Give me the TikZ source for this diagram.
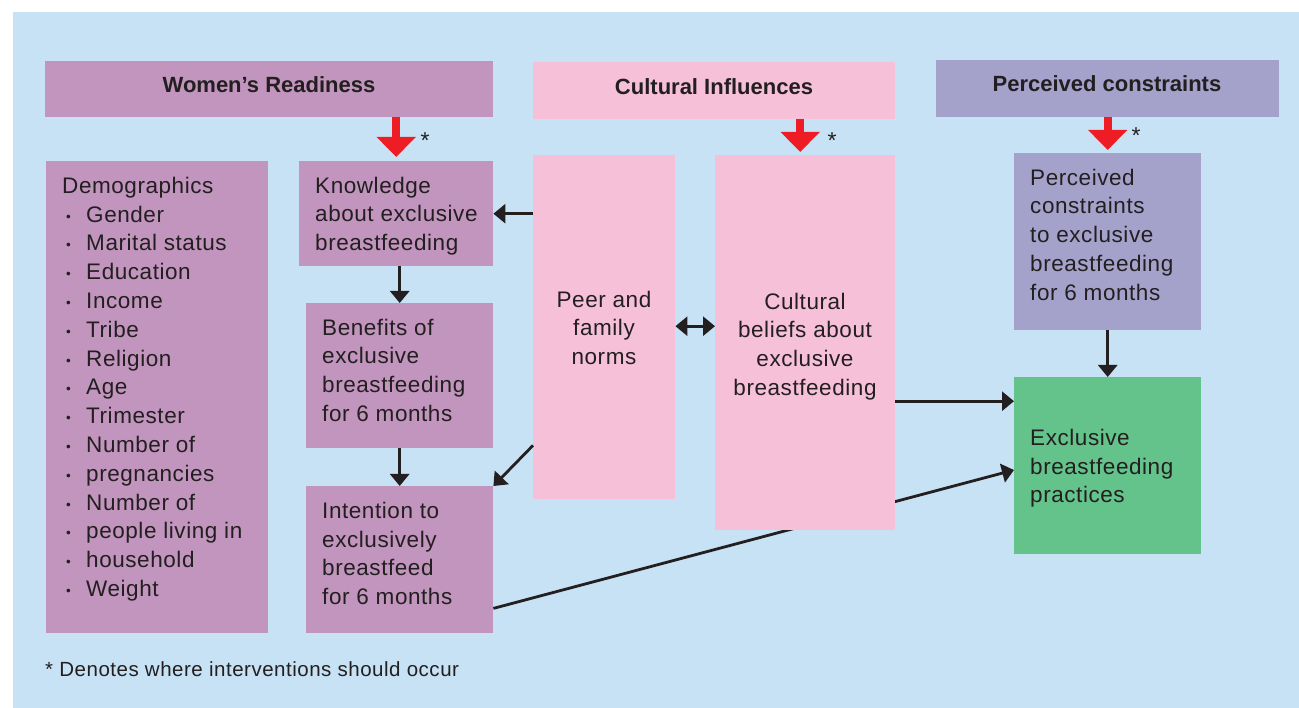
\documentclass[tikz,border=0pt]{standalone}
\usepackage{fontspec}
\setmainfont{Liberation Sans}[LetterSpace=2.5,BoldFeatures={LetterSpace=0}]
\usetikzlibrary{arrows.meta}

\definecolor{sky}{HTML}{C6E2F4}
\definecolor{mauve}{HTML}{C195BD}
\definecolor{rose}{HTML}{F7C0D9}
\definecolor{lilac}{HTML}{A4A2CA}
\definecolor{leaf}{HTML}{64C28B}
\definecolor{alert}{HTML}{EE1C25}
\definecolor{ink}{HTML}{231F20}

% bullet for the demographics list
\newcommand{\dotitem}{\makebox[24pt][l]{\hspace{4pt}\raisebox{1pt}{\scalebox{0.6}{•}}}}
% first-line strut: the text block's top sits 17pt above its first baseline
\newcommand{\firstline}{\rule{0pt}{17pt}}

\tikzset{
  panel/.style={rectangle, anchor=north west, inner sep=0pt, draw=none},
  txt/.style={anchor=north west, inner sep=0pt, text=ink, align=left,
    font=\fontsize{22.5}{28.8}\selectfont},
  ctxt/.style={txt, anchor=north, align=center},
  head/.style={anchor=base, inner sep=0pt, text=ink,
    font=\fontsize{22}{24}\selectfont\bfseries},
  arr/.style={draw=ink, line width=2.8pt, -{Triangle[length=12pt,width=19pt]}},
  twoarr/.style={draw=ink, line width=2.8pt,
    {Triangle[length=12pt,width=19pt]}-{Triangle[length=12pt,width=19pt]}},
  redarr/.style={draw=alert, line width=8pt, -{Triangle[length=20pt,width=38pt]}},
  star/.style={anchor=base, text=ink, inner sep=0pt, font=\fontsize{23}{24}\selectfont},
}

\begin{document}
\begin{tikzpicture}[x=1pt, y=-1pt]
  \useasboundingbox (0,0) rectangle (1299,708);
  \fill[sky] (13,12) rectangle (1299,708);

  % header bars
  \node[panel, fill=mauve, minimum width=448pt, minimum height=56pt] (hwr) at (45,61) {};
  \node[panel, fill=rose, minimum width=362pt, minimum height=57pt] (hci) at (533,62) {};
  \node[panel, fill=lilac, minimum width=343pt, minimum height=57pt] (hpc) at (936,60) {};
  \node[head] (hwr-t) at (269,93) {Women’s Readiness};
  \node[head] (hci-t) at (714,95) {Cultural Influences};
  \node[head] (hpc-t) at (1107,92) {Perceived constraints};

  % women's readiness column
  \node[panel, fill=mauve, minimum width=222pt, minimum height=472pt] (dem) at (46,161) {};
  \node[panel, fill=mauve, minimum width=194pt, minimum height=105pt] (know) at (299,161) {};
  \node[panel, fill=mauve, minimum width=187pt, minimum height=145pt] (ben) at (306,303) {};
  \node[panel, fill=mauve, minimum width=187pt, minimum height=147pt] (int) at (306,486) {};

  \node[txt] (dem-t) at (62,176)
    {\firstline Demographics\\
     \dotitem Gender\\
     \dotitem Marital status\\
     \dotitem Education\\
     \dotitem Income\\
     \dotitem Tribe\\
     \dotitem Religion\\
     \dotitem Age\\
     \dotitem Trimester\\
     \dotitem Number of\\
     \dotitem pregnancies\\
     \dotitem Number of\\
     \dotitem people living in\\
     \dotitem household\\
     \dotitem Weight};
  \node[txt] (know-t) at (315,176) {\firstline Knowledge\\about exclusive\\breastfeeding};
  \node[txt] (ben-t) at (322,318) {\firstline Benefits of\\exclusive\\breastfeeding\\for 6 months};
  \node[txt] (int-t) at (322,501) {\firstline Intention to\\exclusively\\breastfeed\\for 6 months};

  % outcome and constraints column
  \node[panel, fill=lilac, minimum width=187pt, minimum height=177pt] (pc) at (1014,153) {};
  \node[panel, fill=leaf, minimum width=187pt, minimum height=177pt] (ebp) at (1014,377) {};
  \node[txt] (pc-t) at (1030,168)
    {\firstline Perceived\\constraints\\to exclusive\\breastfeeding\\for 6 months};
  \node[txt] (ebp-t) at (1030,428) {\firstline Exclusive\\breastfeeding\\practices};

  % intention feeds practice, running behind the cultural beliefs box
  \draw[arr] ([yshift=25pt]int.south east) -- ([yshift=-93pt]ebp.north west);

  % cultural influences column
  \node[panel, fill=rose, minimum width=142pt, minimum height=344pt] (peer) at (533,155) {};
  \node[panel, fill=rose, minimum width=180pt, minimum height=375pt] (cult) at (715,155) {};
  \node[ctxt] (peer-t) at (604,290) {\firstline Peer and\\family\\norms};
  \node[ctxt] (cult-t) at (805,292) {\firstline Cultural\\beliefs about\\exclusive\\breastfeeding};

  % connectors
  \draw[arr] (peer.west |- know.east) -- (know.east);
  \draw[arr] (ben.north |- know.south) -- (ben.north);
  \draw[arr] (int.north |- ben.south) -- (int.north);
  \draw[arr] ([yshift=54pt]peer.south west) -- (int.north east);
  \draw[twoarr] ([yshift=1pt]peer.east) coordinate (pm) -- (cult.west |- pm);
  \draw[arr] ([yshift=-58.5pt]cult.east) coordinate (cb) -- (ebp.west |- cb);
  \draw[arr] (pc.south) -- (ebp.north);

  % intervention points
  \draw[redarr, shorten >=4pt] (know.north |- hwr.south) -- (know.north);
  \draw[redarr, shorten >=3pt] ([xshift=-5pt]cult.north |- hci.south) -- ([xshift=-5pt]cult.north);
  \draw[redarr, shorten >=3pt] (pc.north |- hpc.south) -- (pc.north);
  \node[star] (s1) at (425,149) {*};
  \node[star] (s2) at (832,149) {*};
  \node[star] (s3) at (1136,144) {*};

  % footnote
  \node[anchor=base west, inner sep=0pt, text=ink, font=\fontsize{20.5}{22}\selectfont] (note) at (45,676)
    {* Denotes where interventions should occur};
\end{tikzpicture}
\end{document}
